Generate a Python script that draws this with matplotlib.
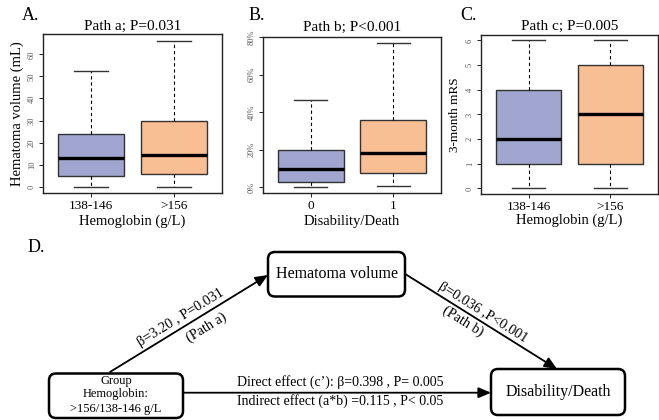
import matplotlib
matplotlib.use("Agg")
import matplotlib.pyplot as plt
from matplotlib.patches import FancyBboxPatch

plt.rcParams['font.family'] = ['Liberation Serif', 'DejaVu Serif']

# panel A: hematoma volume (mL) by hemoglobin group
hb_groups = ['138-146', '>156']
vol_low = [0, 0]
vol_q1 = [4.8, 5.7]
vol_med = [12.9, 14.4]
vol_q3 = [23.7, 30.0]
vol_high = [52.5, 66.0]

# panel B: hematoma volume (%) by outcome
outcome_groups = ['0', '1']
pct_low = [0, 0.9]
pct_q1 = [2.7, 7.8]
pct_med = [9.6, 18.3]
pct_q3 = [20.0, 35.8]
pct_high = [46.6, 77.1]

# panel C: 3-month mRS by hemoglobin group
mrs_low = [0, 0]
mrs_q1 = [1, 1]
mrs_med = [2, 3]
mrs_q3 = [4, 5]
mrs_high = [6, 6]

box_colors = ['#A0A6D0', '#F8BE94']

W, H = 659, 420
fig = plt.figure(figsize=(W / 100, H / 100), dpi=100)


def px_axes(l, t, r, b):
    return fig.add_axes([l / W, 1 - b / H, (r - l) / W, (b - t) / H])


def draw_box(ax, low, q1, med, q3, high, labels, yticks, ylim, fmt):
    stats = []
    for i in range(len(labels)):
        stats.append(dict(whislo=low[i], q1=q1[i], med=med[i], q3=q3[i], whishi=high[i]))
    bp = ax.bxp(stats, positions=[1, 2], widths=0.8, patch_artist=True, showfliers=False,
                boxprops=dict(edgecolor='#333333', linewidth=1.0),
                medianprops=dict(color='black', linewidth=2.4),
                whiskerprops=dict(color='black', linewidth=0.8, linestyle=(0, (3, 2.5))),
                capprops=dict(color='#333333', linewidth=1.0))
    for patch, c in zip(bp['boxes'], box_colors):
        patch.set_facecolor(c)
    ax.set_xlim(0.42, 2.58)
    ax.set_ylim(*ylim)
    ax.set_xticks([1, 2])
    ax.set_xticklabels(labels, fontsize=9.5)
    ax.set_yticks(yticks)
    ax.set_yticklabels([fmt(v) for v in yticks], fontsize=6, rotation=90, va='center', color='#555555')
    ax.tick_params(axis='both', length=3, width=0.7, color='#222222', pad=2)
    for s in ax.spines.values():
        s.set_linewidth(1.0)
        s.set_color('#222222')


axA = px_axes(43, 34, 222, 192.7)
draw_box(axA, vol_low, vol_q1, vol_med, vol_q3, vol_high, hb_groups,
         [0, 10, 20, 30, 40, 50, 60], (-2.66, 69.2), lambda v: str(v))
axA.set_title('Path a; P=0.031', fontsize=11, pad=3)
axA.set_ylabel('Hematoma volume (mL)', fontsize=10.5, labelpad=3)
axA.set_xlabel('Hemoglobin (g/L)', fontsize=10.5, labelpad=2)

axB = px_axes(263, 36.7, 441, 193)
draw_box(axB, pct_low, pct_q1, pct_med, pct_q3, pct_high, outcome_groups,
         [0, 20, 40, 60, 80], (-3.08, 80.2), lambda v: '%d%%' % v)
axB.set_title('Path b; P<0.001', fontsize=11, pad=4)
axB.set_xlabel('Disability/Death', fontsize=10.5, labelpad=2)

axC = px_axes(481, 34.5, 658, 194.3)
draw_box(axC, mrs_low, mrs_q1, mrs_med, mrs_q3, mrs_high, hb_groups,
         [0, 1, 2, 3, 4, 5, 6], (-0.24, 6.24), lambda v: str(v))
axC.set_title('Path c; P=0.005', fontsize=11, pad=3)
axC.set_ylabel('3-month mRS', fontsize=9.5, labelpad=4)
axC.set_xlabel('Hemoglobin (g/L)', fontsize=10.5, labelpad=0)

# panel D: mediation diagram, drawn in pixel coordinates
axD = fig.add_axes([0, 0, 1, 1], zorder=-1)
axD.set_xlim(0, W)
axD.set_ylim(H, 0)
axD.axis('off')

for lab, x in zip(['A.', 'B.', 'C.'], [22, 249, 460]):
    axD.text(x, 16, lab, fontsize=13, ha='left', va='center')
axD.text(28, 248, 'D.', fontsize=13, ha='left', va='center')


def node(l, t, r, b):
    axD.add_patch(FancyBboxPatch((l, t), r - l, b - t, boxstyle='round,pad=0,rounding_size=7',
                                 facecolor='white', edgecolor='black', linewidth=1.8))


node(268, 252, 405, 296.5)
node(49, 373.5, 183, 418)
node(491, 369, 625, 415)
axD.text(336.5, 274.5, 'Hematoma volume', fontsize=11.5, ha='center', va='center')
axD.text(558, 392, 'Disability/Death', fontsize=11.5, ha='center', va='center')
axD.text(116, 381, 'Group', fontsize=9, ha='center', va='center')
axD.text(116, 394.5, 'Hemoglobin:', fontsize=9, ha='center', va='center')
axD.text(116, 409, '>156/138-146 g/L', fontsize=9, ha='center', va='center')

arrow = dict(arrowstyle='-|>,head_length=0.75,head_width=0.32', color='black', linewidth=1.3,
             shrinkA=0, shrinkB=0)
axD.annotate('', xy=(268, 275), xytext=(110, 372), arrowprops=arrow)
axD.annotate('', xy=(557, 369), xytext=(406, 274.5), arrowprops=arrow)
axD.annotate('', xy=(491, 392.7), xytext=(183, 392.7), arrowprops=arrow)

axD.text(181, 317.5, 'β=3.20 , P=0.031', fontsize=10.3, rotation=31.5, rotation_mode='anchor',
         ha='center', va='center')
axD.text(207, 328, '(Path a)', fontsize=10.3, rotation=31.5, rotation_mode='anchor',
         ha='center', va='center')
axD.text(482.5, 312.5, 'β=0.036 ,P<0.001', fontsize=10.3, rotation=-32, rotation_mode='anchor',
         ha='center', va='center')
axD.text(462.5, 321, '(Path b)', fontsize=10.3, rotation=-32, rotation_mode='anchor',
         ha='center', va='center')
axD.text(237, 382.5, 'Direct effect (c\u2019): β=0.398 , P= 0.005', fontsize=10, ha='left', va='center')
axD.text(237, 401, 'Indirect effect (a*b) =0.115 , P< 0.05', fontsize=10, ha='left', va='center')

fig.savefig('out.png', dpi=100)
